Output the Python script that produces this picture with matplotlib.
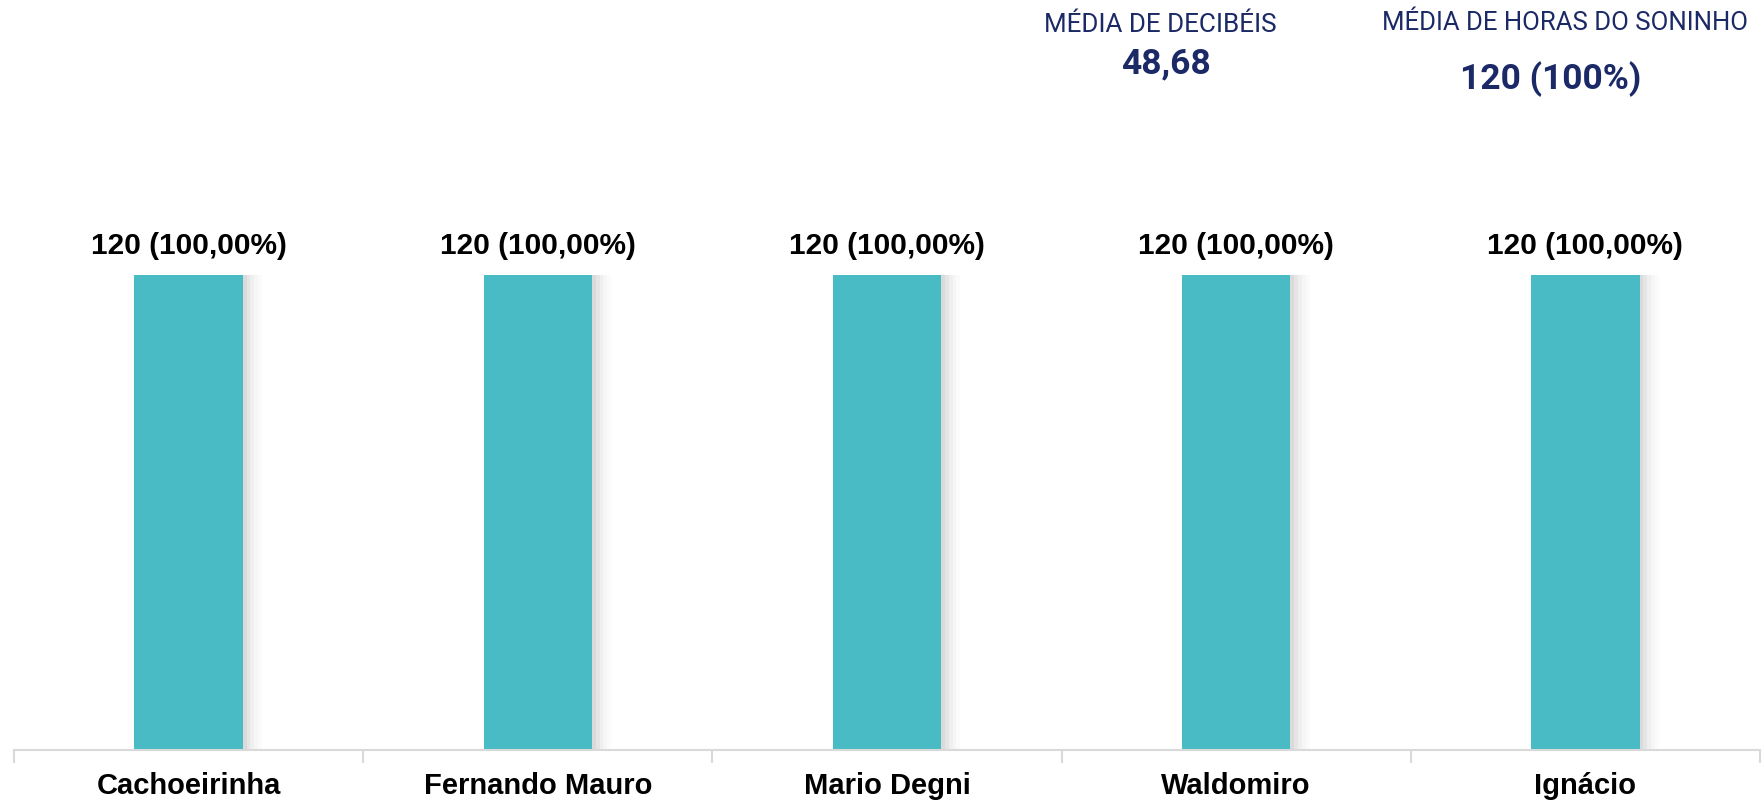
import numpy as np
import matplotlib.pyplot as plt

# data
bairros = ['Cachoeirinha', 'Fernando Mauro', 'Mario Degni', 'Waldomiro', 'Ignácio']
horas = [120, 120, 120, 120, 120]
percentuais = [100.00, 100.00, 100.00, 100.00, 100.00]
media_decibeis = '48,68'
media_horas = '120 (100%)'

cor_barra = '#48bbc5'
cor_titulo = '#1b2a66'

fig = plt.figure(figsize=(17.65, 8.03), dpi=100)
ax = fig.add_axes([14 / 1765, 52 / 803, 1746 / 1765, 581 / 803])

x = np.arange(len(bairros))
largura = 0.31

# soft shadow to the right of each bar
for i, a in enumerate([0.14, 0.10, 0.07, 0.05, 0.03]):
    ax.bar(x + 0.011 * (i + 1), horas, width=largura, color='#9a9a9a',
           alpha=a, linewidth=0, zorder=1)
ax.bar(x, horas, width=largura, color=cor_barra, linewidth=0, zorder=2)

for xi, h, p in zip(x, horas, percentuais):
    rot = f'{h} ({p:.2f}%)'.replace('.', ',')
    ax.text(xi, h + 4.0, rot, ha='center', va='bottom', fontsize=21.5,
            fontweight='bold', family='Liberation Sans', color='black')

ax.set_xlim(-0.5, len(bairros) - 0.5)
ax.set_ylim(0, 146.8)

for s in ['top', 'right', 'left']:
    ax.spines[s].set_visible(False)
ax.spines['bottom'].set_color('#d9d9d9')
ax.spines['bottom'].set_linewidth(1.5)
ax.set_yticks([])

ax.set_xticks(np.arange(-0.5, len(bairros)), labels=[])
ax.tick_params(axis='x', which='major', length=9, width=1.5, color='#d9d9d9')
ax.set_xticks(x, labels=bairros, minor=True)
ax.tick_params(axis='x', which='minor', length=0, pad=15)
for lbl in ax.get_xticklabels(minor=True):
    lbl.set_fontsize(21)
    lbl.set_fontweight('bold')
    lbl.set_family('Liberation Sans')

# indicators at the top
fig.text(1160 / 1765, 1 - 25 / 803, 'MÉDIA DE DECIBÉIS', ha='center', va='center',
         fontsize=18.7, family='Roboto', color=cor_titulo)
fig.text(1166 / 1765, 1 - 64 / 803, media_decibeis, ha='center', va='center',
         fontsize=25.5, fontweight='bold', family='Roboto', color=cor_titulo)
fig.text(1565 / 1765, 1 - 23 / 803, 'MÉDIA DE HORAS DO SONINHO', ha='center', va='center',
         fontsize=18.5, family='Roboto', color=cor_titulo)
fig.text(1551 / 1765, 1 - 79 / 803, media_horas, ha='center', va='center',
         fontsize=25.5, fontweight='bold', family='Roboto', color=cor_titulo)

fig.savefig('out.png', dpi=100)
